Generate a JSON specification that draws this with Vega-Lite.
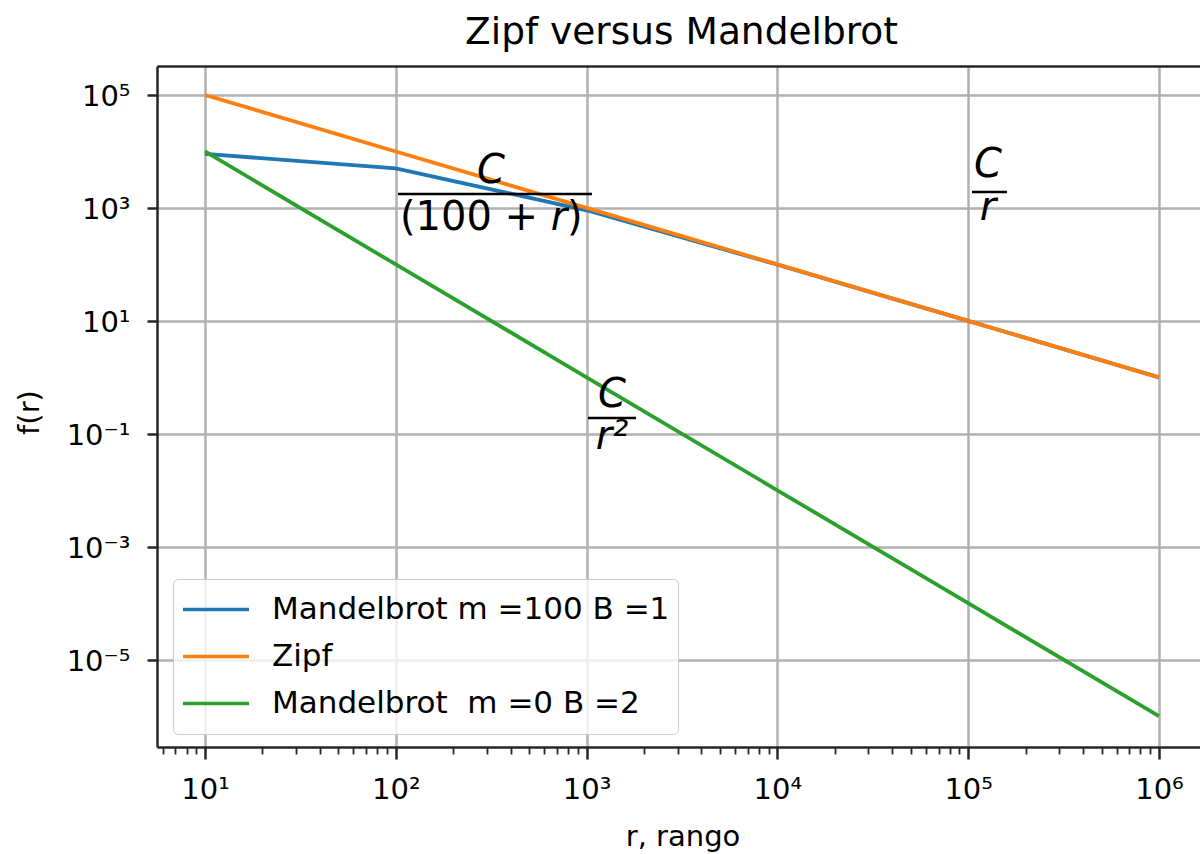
{
  "$schema": "https://vega.github.io/schema/vega-lite/v6.json",
  "width": 1043,
  "height": 681,
  "autosize": "none",
  "padding": {"left": 157, "top": 66, "right": 0, "bottom": 107},
  "background": "white",
  "title": {
    "text": "Zipf versus Mandelbrot",
    "fontSize": 37.5,
    "font": "DejaVu Sans",
    "fontWeight": "normal",
    "color": "black",
    "anchor": "middle",
    "frame": "group",
    "offset": 12,
    "dx": 3,
    "dy": 27,
    "baseline": "alphabetic"
  },
  "datasets": {
    "lines": [
      {"r": 10, "f": 9090.9, "serie": "Mandelbrot m =100 B =1"},
      {"r": 100, "f": 5000, "serie": "Mandelbrot m =100 B =1"},
      {"r": 1000, "f": 909.09, "serie": "Mandelbrot m =100 B =1"},
      {"r": 10000, "f": 99.01, "serie": "Mandelbrot m =100 B =1"},
      {"r": 100000, "f": 9.99, "serie": "Mandelbrot m =100 B =1"},
      {"r": 1000000, "f": 0.9999, "serie": "Mandelbrot m =100 B =1"},
      {"r": 10, "f": 100000, "serie": "Zipf"},
      {"r": 100, "f": 10000, "serie": "Zipf"},
      {"r": 1000, "f": 1000, "serie": "Zipf"},
      {"r": 10000, "f": 100, "serie": "Zipf"},
      {"r": 100000, "f": 10, "serie": "Zipf"},
      {"r": 1000000, "f": 1, "serie": "Zipf"},
      {"r": 10, "f": 10000, "serie": "Mandelbrot\u00a0 m =0 B =2"},
      {"r": 100, "f": 100, "serie": "Mandelbrot\u00a0 m =0 B =2"},
      {"r": 1000, "f": 1, "serie": "Mandelbrot\u00a0 m =0 B =2"},
      {"r": 10000, "f": 0.01, "serie": "Mandelbrot\u00a0 m =0 B =2"},
      {"r": 100000, "f": 0.0001, "serie": "Mandelbrot\u00a0 m =0 B =2"},
      {"r": 1000000, "f": 0.000001, "serie": "Mandelbrot\u00a0 m =0 B =2"}
    ],
    "bars": [
      {"r": 102.7, "r2": 1067, "f": 1765},
      {"r": 104700, "r2": 159700, "f": 1916},
      {"r": 1017, "r2": 1816, "f": 0.1906}
    ],
    "mathItalic": [
      {"r": 315.5, "f": 2765, "t": "C"},
      {"r": 127000, "f": 3573, "t": "C"},
      {"r": 1359, "f": 0.2985, "t": "C"},
      {"r": 127000, "f": 611.5, "t": "r"},
      {"r": 1359, "f": 0.0538, "t": "r²"},
      {"r": 716.6, "f": 406.8, "t": "r"}
    ],
    "mathUpright": [
      {"r": 241.9, "f": 406.8, "t": "(100 +"},
      {"r": 867.5, "f": 406.8, "t": ")"}
    ]
  },
  "layer": [
    {
      "data": {"name": "lines"},
      "mark": {"type": "line", "strokeWidth": 3.8, "clip": true},
      "encoding": {
        "x": {
          "field": "r", "type": "quantitative",
          "scale": {"type": "log", "domain": [5.602, 1641000], "nice": false, "zero": false},
          "axis": {
            "orient": "bottom",
            "values": [10, 100, 1000, 10000, 100000, 1000000],
            "labelExpr": "'10' + (datum.value < 1 ? '⁻' : '') + ['⁰','¹','²','³','⁴','⁵','⁶','⁷','⁸','⁹'][abs(round(log(datum.value)/LN10))]",
            "grid": true,
            "tickSize": 12,
            "labelPadding": 16,
            "title": "r, rango",
            "titleX": 525.5,
            "titleY": 98,
            "titleBaseline": "alphabetic",
            "titleAnchor": null
          }
        },
        "y": {
          "field": "f", "type": "quantitative",
          "scale": {"type": "log", "domain": [2.844e-7, 326200], "nice": false, "zero": false},
          "axis": {
            "orient": "left",
            "values": [100000, 1000, 10, 0.1, 0.001, 0.00001],
            "labelExpr": "'10' + (datum.value < 1 ? '⁻' : '') + ['⁰','¹','²','³','⁴','⁵','⁶','⁷','⁸','⁹'][abs(round(log(datum.value)/LN10))]",
            "grid": true,
            "tickSize": 10,
            "labelPadding": 17,
            "labelOffset": 2,
            "title": "f(r)",
            "titleX": -119,
            "titleY": 346,
            "titleBaseline": "alphabetic",
            "titleAngle": 270
          }
        },
        "color": {
          "field": "serie", "type": "nominal",
          "scale": {
            "domain": ["Mandelbrot m =100 B =1", "Zipf", "Mandelbrot\u00a0 m =0 B =2"],
            "range": ["#1f77b4", "#ff7f0e", "#2ca02c"]
          },
          "legend": {
            "orient": "none",
            "legendX": 16,
            "legendY": 513,
            "title": null,
            "symbolType": "stroke",
            "symbolSize": 4356,
            "symbolStrokeWidth": 3.5,
            "clipHeight": 45,
            "rowPadding": 2,
            "labelFontSize": 31,
            "labelFont": "DejaVu Sans",
            "labelColor": "black",
            "labelOffset": 21,
            "labelLimit": 0,
            "padding": 8,
            "fillColor": "rgba(255,255,255,0.8)",
            "strokeColor": "#cccccc",
            "cornerRadius": 5,
            "zindex": 1
          }
        }
      }
    },
    {
      "data": {"name": "bars"},
      "mark": {"type": "rule", "color": "black", "strokeWidth": 2.5},
      "encoding": {
        "x": {
          "field": "r", "type": "quantitative",
          "axis": {
            "orient": "bottom",
            "values": [6, 7, 8, 9, 20, 30, 40, 50, 60, 70, 80, 90, 200, 300, 400, 500, 600, 700, 800, 900, 2000, 3000, 4000, 5000, 6000, 7000, 8000, 9000, 20000, 30000, 40000, 50000, 60000, 70000, 80000, 90000, 200000, 300000, 400000, 500000, 600000, 700000, 800000, 900000],
            "labels": false,
            "grid": false,
            "domain": false,
            "tickSize": 7,
            "tickWidth": 1.8,
            "title": null
          }
        },
        "x2": {"field": "r2"},
        "y": {"field": "f", "type": "quantitative", "axis": null}
      }
    },
    {
      "data": {"name": "mathItalic"},
      "mark": {"type": "text", "fontSize": 40, "font": "DejaVu Sans", "fontStyle": "italic", "align": "center", "baseline": "alphabetic", "color": "black"},
      "encoding": {
        "x": {
          "field": "r", "type": "quantitative",
          "axis": {
            "orient": "top",
            "labels": false,
            "ticks": false,
            "grid": false,
            "domain": true,
            "title": null
          }
        },
        "y": {"field": "f", "type": "quantitative", "axis": null},
        "text": {"field": "t"}
      }
    },
    {
      "data": {"name": "mathUpright"},
      "mark": {"type": "text", "fontSize": 40, "font": "DejaVu Sans", "align": "center", "baseline": "alphabetic", "color": "black"},
      "encoding": {
        "x": {"field": "r", "type": "quantitative", "axis": null},
        "y": {"field": "f", "type": "quantitative", "axis": null},
        "text": {"field": "t"}
      }
    }
  ],
  "resolve": {"axis": {"x": "independent", "y": "independent"}},
  "config": {
    "font": "DejaVu Sans",
    "view": {"stroke": null},
    "axis": {
      "labelFont": "DejaVu Sans",
      "labelFontSize": 29,
      "labelColor": "black",
      "titleFont": "DejaVu Sans",
      "titleFontSize": 29,
      "titleFontWeight": "normal",
      "titleColor": "black",
      "domainColor": "#262626",
      "domainWidth": 2.5,
      "tickColor": "#262626",
      "tickWidth": 2.5,
      "gridColor": "#b0b0b0",
      "gridWidth": 2.5,
      "gridOpacity": 1,
      "labelFlush": false,
      "labelOverlap": false
    }
  }
}
